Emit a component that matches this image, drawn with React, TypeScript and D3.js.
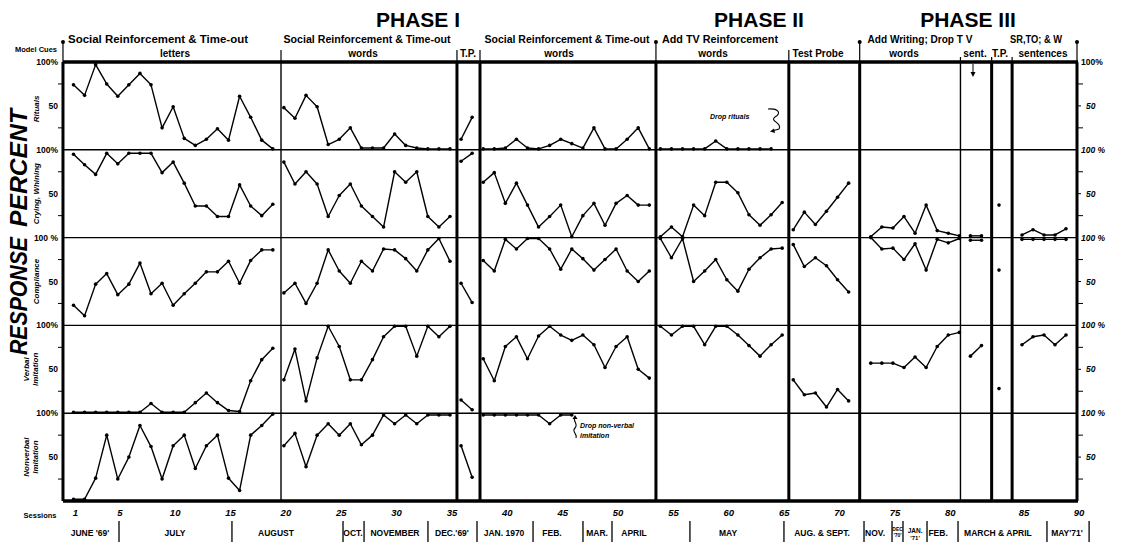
import React from 'react'
import * as d3 from 'd3'

const W = 1125
const H = 542
const frame = { left: 63, right: 1077, top: 62, bottom: 501 }
const font = "'Liberation Sans', Arial, sans-serif"

// session axis: the hand-drawn axis stretches around the last test probe
const sessionKnots = [1, 83, 84, 85, 90]
const sessionTicks = [1, 5, 10, 15, 20, 25, 30, 35, 40, 45, 50, 55, 60, 65, 70, 75, 80, 85, 90]

const rowLabels = [['Rituals'], ['Crying, Whining'], ['Compliance'], ['Verbal', 'Imitation'], ['Nonverbal', 'Imitation']]

// each run of connected sessions: first session + percent values
const rituals = [
  { start: 1, v: [74, 62, 97, 75, 61, 74, 87, 74, 25, 49, 13, 5, 12, 24, 11, 61, 37, 11, 1] },
  { start: 20, v: [48, 36, 62, 49, 6, 12, 25, 2, 2, 2, 18, 5, 2, 1, 1, 1] },
  { start: 36, v: [12, 37] },
  { start: 38, v: [1, 1, 2, 12, 2, 1, 5, 12, 7, 2, 25, 1, 1, 12, 25, 1] },
  { start: 54, v: [1, 1, 1, 1, 1, 10, 1, 1, 1, 1, 1] },
]
const crying = [
  { start: 1, v: [95, 83, 72, 96, 84, 96, 96, 96, 74, 86, 62, 36, 36, 24, 24, 60, 36, 25, 38] },
  { start: 20, v: [86, 61, 75, 61, 24, 48, 61, 36, 24, 12, 75, 63, 75, 24, 12, 24] },
  { start: 36, v: [87, 96] },
  { start: 38, v: [63, 74, 39, 62, 37, 12, 24, 37, 1, 25, 39, 14, 39, 48, 37, 37] },
  { start: 54, v: [1, 12, 1, 37, 25, 63, 63, 51, 26, 14, 26, 40] },
  { start: 66, v: [9, 29, 15, 30, 46, 62] },
  { start: 73, v: [1, 12, 11, 24, 5, 37, 8, 5, 2] },
  { start: 82, v: [2, 2] },
  { start: 84, v: [37] },
  { start: 85, v: [3, 9, 3, 3, 10] },
]
const compliance = [
  { start: 1, v: [23, 11, 47, 59, 35, 47, 71, 36, 48, 23, 36, 48, 61, 61, 73, 48, 74, 86, 86] },
  { start: 20, v: [37, 48, 25, 48, 86, 62, 48, 73, 62, 87, 86, 76, 62, 86, 99, 73] },
  { start: 36, v: [48, 26] },
  { start: 38, v: [74, 62, 98, 87, 99, 99, 87, 64, 87, 76, 63, 75, 87, 62, 50, 62] },
  { start: 54, v: [99, 77, 99, 50, 62, 75, 52, 39, 64, 77, 87, 88] },
  { start: 66, v: [92, 67, 77, 68, 52, 38] },
  { start: 73, v: [100, 87, 88, 75, 93, 63, 98, 94, 99] },
  { start: 82, v: [97, 97] },
  { start: 84, v: [63] },
  { start: 85, v: [98, 98, 98, 98, 98] },
]
const verbal = [
  { start: 1, v: [1, 1, 1, 1, 1, 1, 1, 11, 1, 1, 1, 12, 23, 12, 3, 2, 37, 61, 74] },
  { start: 20, v: [38, 73, 14, 63, 99, 76, 38, 38, 61, 87, 99, 99, 65, 99, 87, 99] },
  { start: 36, v: [15, 4] },
  { start: 38, v: [62, 37, 76, 87, 62, 88, 99, 89, 83, 89, 78, 52, 76, 87, 50, 40] },
  { start: 54, v: [99, 89, 99, 99, 78, 99, 99, 89, 77, 65, 78, 89] },
  { start: 66, v: [38, 21, 23, 7, 27, 14] },
  { start: 73, v: [57, 57, 57, 52, 64, 52, 76, 89, 92] },
  { start: 82, v: [65, 77] },
  { start: 84, v: [28] },
  { start: 85, v: [78, 87, 89, 78, 89] },
]
const nonverbal = [
  { start: 1, v: [2, 2, 26, 75, 25, 50, 86, 62, 25, 63, 75, 37, 63, 75, 26, 12, 75, 86, 99] },
  { start: 20, v: [63, 77, 39, 75, 88, 75, 88, 64, 75, 98, 88, 98, 88, 98, 98, 98] },
  { start: 36, v: [63, 27] },
  { start: 38, v: [98, 98, 98, 98, 98, 98, 88, 98, 98] },
]
const rows = [rituals, crying, compliance, verbal, nonverbal]

// condition changes, in session units
const phaseLines = [
  { at: 0.05, kind: 'major' }, { at: 19.74, kind: 'thin' }, { at: 35.63, kind: 'heavy' },
  { at: 37.71, kind: 'heavy' }, { at: 53.6, kind: 'major' }, { at: 65.6, kind: 'heavy' },
  { at: 72, kind: 'major' }, { at: 81.1, kind: 'thinShort' }, { at: 83.58, kind: 'heavyShort' },
  { at: 84.57, kind: 'heavyShort' }, { at: 90, kind: 'major' },
]

const monthBreaks = [5.11, 15.31, 25.34, 27.24, 33.01, 37.44, 42.5, 47.01, 49.63, 56.67, 65.16, 72.39, 74.92, 75.91, 78.08, 80.88, 87.27, 91.1]
const months = [
  { label: "JUNE '69'", at: 2.49 }, { label: 'JULY', at: 10.17 }, { label: 'AUGUST', at: 19.29 },
  { label: 'OCT.', at: 26.24 }, { label: 'NOVEMBER', at: 30.03 }, { label: "DEC.'69'", at: 35.18 },
  { label: 'JAN. 1970', at: 39.88 }, { label: 'FEB.', at: 44.21 }, { label: 'MAR.', at: 48.28 },
  { label: 'APRIL', at: 51.62 }, { label: 'MAY', at: 60.11 }, { label: 'AUG. & SEPT.', at: 68.6 },
  { label: 'NOV.', at: 73.39 }, { label: 'FEB.', at: 79.08 }, { label: 'MARCH & APRIL', at: 83.94 },
  { label: "MAY'71'", at: 89.09 },
]

const phaseTitles = [
  { label: 'PHASE I', x: 418 }, { label: 'PHASE II', x: 759 }, { label: 'PHASE III', x: 968 },
]
const conditionTitles = [
  { line1: 'Social Reinforcement & Time-out', x1: 158, w1: 180, line2: 'letters', x2: 175 },
  { line1: 'Social Reinforcement & Time-out', x1: 367, w1: 167, line2: 'words', x2: 363 },
  { line1: '', x1: 0, w1: 0, line2: 'T.P.', x2: 468 },
  { line1: 'Social Reinforcement & Time-out', x1: 567, w1: 165, line2: 'words', x2: 559 },
  { line1: 'Add TV Reinforcement', x1: 720, w1: 116, line2: 'words', x2: 713 },
  { line1: '', x1: 0, w1: 0, line2: 'Test Probe', x2: 818 },
  { line1: 'Add Writing; Drop T V', x1: 920, w1: 105, line2: 'words', x2: 904 },
  { line1: '', x1: 0, w1: 0, line2: 'sent.', x2: 975 },
  { line1: '', x1: 0, w1: 0, line2: 'T.P.', x2: 1000 },
  { line1: 'SR,TO; & W', x1: 1036, w1: 52, line2: 'sentences', x2: 1043 },
]

export default function App() {
  const x = d3.scaleLinear().domain(sessionKnots).range([73.5, 981.5, 999, 1022, 1077])
  const rowH = (frame.bottom - frame.top) / 5
  const ys = d3.range(5).map(i =>
    d3.scaleLinear().domain([0, 100]).range([frame.top + (i + 1) * rowH, frame.top + i * rowH]))
  const line = d3.line<[number, number]>()

  const bold = { fontFamily: font, fontWeight: 700 } as const

  return (
    <svg width={W} height={H} style={{ position: 'absolute', left: 0, top: 0, background: '#fff' }}>
      <rect width={W} height={H} fill="#fff" />

      {/* phase titles */}
      {phaseTitles.map(t => (
        <text key={t.label} x={t.x} y={27} textAnchor="middle" fontSize={21} {...bold}>{t.label}</text>
      ))}
      {conditionTitles.map((c, i) => (
        <g key={i} fontSize={10} {...bold}>
          {c.line1 && <text x={c.x1} y={43} textAnchor="middle" textLength={c.w1} lengthAdjust="spacingAndGlyphs">{c.line1}</text>}
          <text x={c.x2} y={57} textAnchor="middle">{c.line2}</text>
        </g>
      ))}
      <text x={57} y={52} textAnchor="end" fontSize={7.5} {...bold}>Model Cues</text>

      {/* sent arrow */}
      <line x1={973} x2={973} y1={64} y2={74} stroke="#000" strokeWidth={1} />
      <path d="M970.5,72 L973,77 L975.5,72 Z" fill="#000" />

      {/* row separators */}
      {d3.range(1, 5).map(i => (
        <line key={i} x1={frame.left} x2={frame.right} y1={ys[i](100)} y2={ys[i](100)} stroke="#000" strokeWidth={1.4} />
      ))}

      {/* phase lines */}
      {phaseLines.map((p, i) => {
        const px = x(p.at)
        const heavy = p.kind !== 'thin' && p.kind !== 'thinShort'
        const top = p.kind === 'major' ? 42 : p.kind.endsWith('Short') ? 57 : 50
        return (
          <g key={i}>
            <line x1={px} x2={px} y1={frame.top} y2={frame.bottom} stroke="#000" strokeWidth={heavy ? 3 : 1.4} />
            <line x1={px} x2={px} y1={top} y2={frame.top} stroke="#000" strokeWidth={1.2} />
            {p.kind === 'major' && <circle cx={px} cy={top} r={2} fill="#000" />}
          </g>
        )
      })}
      <line x1={frame.left} x2={frame.right + 1} y1={frame.top} y2={frame.top} stroke="#000" strokeWidth={3.5} />
      <line x1={frame.left} x2={frame.right + 1} y1={frame.bottom} y2={frame.bottom} stroke="#000" strokeWidth={3.5} />

      {/* axes */}
      {ys.map((y, i) => (
        <g key={i} fontSize={8.5} {...bold}>
          <text x={58} y={y(100) + 3} textAnchor="end">{i === 2 ? '100 %' : '100%'}</text>
          <text x={58} y={y(50) + 3} textAnchor="end">50</text>
          {[25, 75].map(t => <line key={t} x1={58} x2={frame.left} y1={y(t)} y2={y(t)} stroke="#000" />)}
          <text x={1081} y={y(100) + 3} fontStyle={i === 0 ? 'normal' : 'italic'}>{i === 0 ? '100%' : '100 %'}</text>
          <text x={1086} y={y(50) + 3} fontStyle="italic">50</text>
          {[25, 75].map(t => <line key={t} x1={frame.right} x2={frame.right + 6} y1={y(t)} y2={y(t)} stroke="#000" />)}
          {[50].map(t => <line key={t} x1={frame.right} x2={frame.right + 4} y1={y(t)} y2={y(t)} stroke="#000" />)}
        </g>
      ))}

      {/* row labels */}
      {rowLabels.map((lab, i) => {
        const cy = (ys[i](0) + ys[i](100)) / 2 + (i === 0 ? 3 : 0)
        return lab.map((l, j) => (
          <text key={i + '-' + j} transform={`translate(${lab.length === 2 ? 29 + j * 9 : 39},${cy}) rotate(-90)`}
            textAnchor="middle" fontSize={8} fontStyle="italic" {...bold}>{l}</text>
        ))
      })}
      <text transform="translate(27,296) rotate(-90)" textAnchor="middle" fontSize={23} fontStyle="italic"
        textLength={118} lengthAdjust="spacingAndGlyphs" {...bold}>RESPONSE</text>
      <text transform="translate(27,168) rotate(-90)" textAnchor="middle" fontSize={23} fontStyle="italic"
        textLength={118} lengthAdjust="spacingAndGlyphs" {...bold}>PERCENT</text>

      {/* data */}
      {rows.map((segs, i) => (
        <g key={i}>
          {segs.map((s, k) => {
            const pts: [number, number][] = s.v.map((v, j) => [x(s.start + j), ys[i](v)])
            return (
              <g key={k}>
                {pts.length > 1 && <path d={line(pts) || ''} fill="none" stroke="#000" strokeWidth={1.4} strokeLinejoin="round" />}
                {pts.map((p, j) => <circle key={j} cx={p[0]} cy={p[1]} r={1.8} fill="#000" />)}
              </g>
            )
          })}
        </g>
      ))}

      {/* annotations */}
      <text x={710} y={119} fontSize={7} fontStyle="italic" {...bold}>Drop rituals</text>
      <path d="M768,109 C778,108 782,113 775,117 C769,121 783,123 779,129 L772,131" fill="none" stroke="#000" strokeWidth={1.1} />
      <path d="M774,128.5 L770,131.5 L775,133 Z" fill="#000" />
      <text x={580} y={428} fontSize={7} fontStyle="italic" {...bold}>Drop non-verbal</text>
      <text x={580} y={438} fontSize={7} fontStyle="italic" {...bold}>imitation</text>
      <path d="M575,417 C572,421 579,424 575,428 C571,432 578,434 576,438" fill="none" stroke="#000" strokeWidth={1.1} />
      <path d="M572.5,419 L575,415 L577.5,419 Z" fill="#000" />

      {/* session axis */}
      <text x={40} y={518} textAnchor="middle" fontSize={7.5} {...bold}>Sessions</text>
      {sessionTicks.map(t => (
        <text key={t} x={x(t) + 2} y={516} textAnchor="middle" fontSize={9.5} fontStyle="italic" {...bold}>{t}</text>
      ))}
      {monthBreaks.map((m, i) => (
        <line key={i} x1={x(m)} x2={x(m)} y1={521} y2={542} stroke="#000" strokeWidth={1.3} />
      ))}
      {months.map((m, i) => (
        <text key={i} x={x(m.at)} y={536} textAnchor="middle" fontSize={8.5} {...bold}>{m.label}</text>
      ))}
      <text x={x(75.42)} y={531} textAnchor="middle" fontSize={5} {...bold}>DEC</text>
      <text x={x(75.42)} y={537} textAnchor="middle" fontSize={5} {...bold}>'70'</text>
      <text x={x(77)} y={533} textAnchor="middle" fontSize={6.5} {...bold}>JAN.</text>
      <text x={x(77)} y={540} textAnchor="middle" fontSize={6} {...bold}>'71'</text>
    </svg>
  )
}
